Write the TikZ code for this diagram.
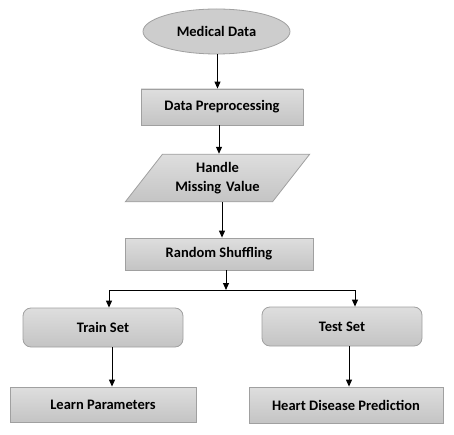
\documentclass[tikz,border=0pt]{standalone}
\usepackage{fontspec}
\setmainfont{Carlito}
\usetikzlibrary{shapes.geometric,arrows.meta}
\definecolor{boxtop}{RGB}{222,222,222}
\definecolor{boxbot}{RGB}{196,196,196}
\definecolor{boxline}{RGB}{160,160,160}

\begin{document}
\begin{tikzpicture}[x=1pt,y=-1pt,
font=\fontsize{14.5}{19}\selectfont\bfseries,
greybox/.style={rectangle, draw=boxline, top color=boxtop, bottom color=boxbot, line width=0.8pt},
roundbox/.style={greybox, rounded corners=8pt},
datanode/.style={ellipse, draw=boxline, fill=boxbot!85!white, line width=0.8pt, minimum width=147pt, minimum height=45pt, inner sep=0pt},
inputnode/.style={trapezium, trapezium left angle=52, trapezium right angle=128, draw=boxline, top color=boxtop, bottom color=boxbot, line width=0.8pt, text width=110pt, align=center, inner xsep=0pt, inner ysep=8pt},
arr/.style={-{Triangle[length=7pt,width=6pt]}, line width=1pt, black}
]
\useasboundingbox (0,0) rectangle (454,435);
%Nodes
\node[datanode] (med) at (216.5,31.5) {Medical Data};
\node[greybox, minimum width=162pt, minimum height=36pt] (prep) at (222,107) {Data Preprocessing};
\node[inputnode] (miss) at (217.5,178) {Handle\\Missing Value};
\node[greybox, minimum width=188pt, minimum height=32pt] (shuf) at (219,254) {Random Shuffling};
\node[roundbox, minimum width=160pt, minimum height=39pt] (trn) at (103,327.5) {Train Set};
\node[roundbox, minimum width=160pt, minimum height=39pt] (tst) at (342,326.5) {Test Set};
\node[greybox, minimum width=186pt, minimum height=35pt] (lrn) at (103,404.5) {Learn Parameters};
\node[greybox, minimum width=194pt, minimum height=36pt] (hdp) at (346,405) {Heart Disease Prediction};

%Lines
\coordinate (c1) at (217.5,0);
\coordinate (c2) at (219,0);
\coordinate (c3) at (222,0);
\coordinate (split) at (226,290);
\coordinate (left) at (109,290);
\coordinate (right) at (355,290);
\coordinate (c4) at (112,0);
\coordinate (c5) at (349,0);
\draw[arr] (c1 |- med.south) -- (c1 |- prep.north);
\draw[arr] (c2 |- prep.south) -- (c2 |- miss.north);
\draw[arr] (c3 |- miss.south) -- (c3 |- shuf.north);
\draw[arr] (split |- shuf.south) -- (split);
\draw[line width=1pt] (left) -- (right);
\draw[arr] (left) -- (left |- trn.north);
\draw[arr] (right) -- (right |- tst.north);
\draw[arr] (c4 |- trn.south) -- (c4 |- lrn.north);
\draw[arr] (c5 |- tst.south) -- (c5 |- hdp.north);

\end{tikzpicture}
\end{document}
